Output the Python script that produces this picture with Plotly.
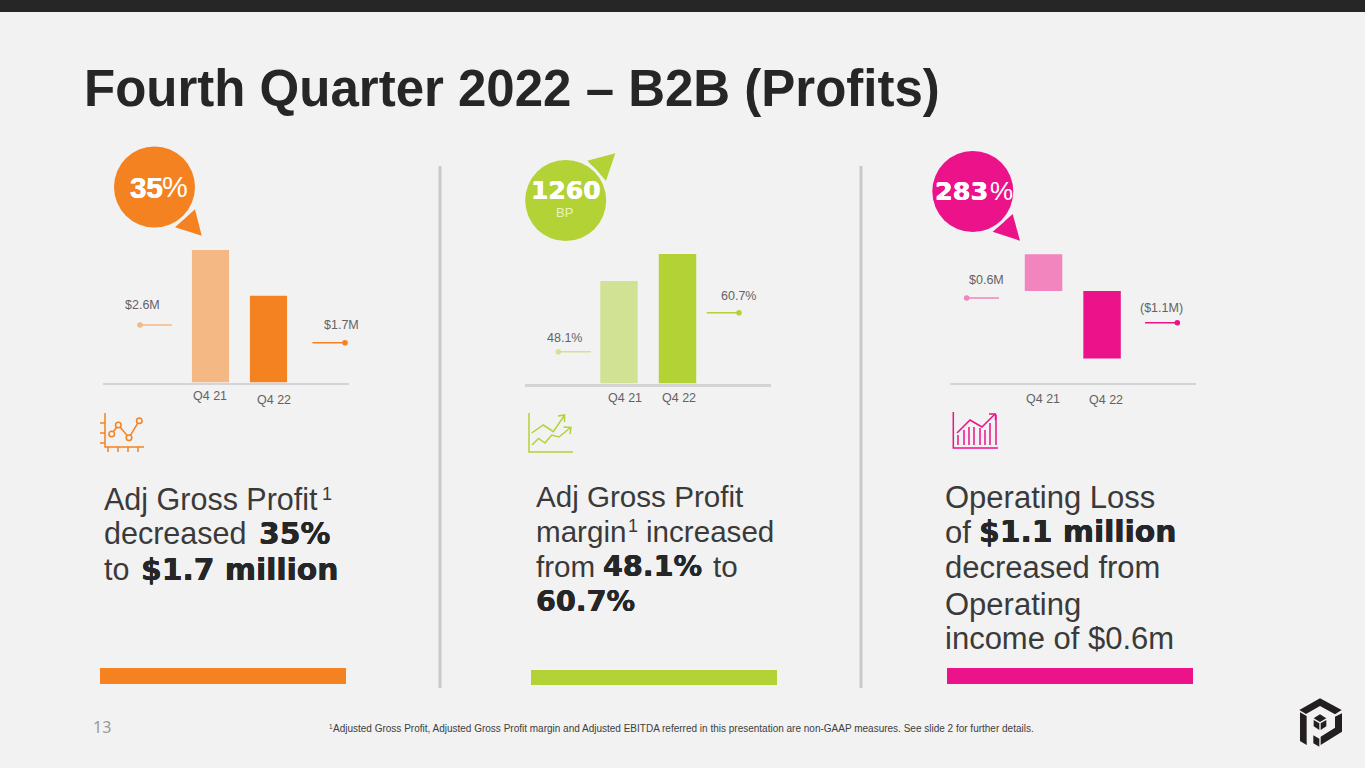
import plotly.graph_objects as go

W, H = 1365, 768
categories = ["Q4 21", "Q4 22"]
gross_profit = [2.6, 1.7]
gross_margin = [48.1, 60.7]
operating = [0.6, -1.1]
value_labels = [["$2.6M", "$1.7M"], ["48.1%", "60.7%"], ["$0.6M", "($1.1M)"]]
badges = ["35%", "1260", "283%"]

ORANGE, ORANGE_L = "#F58220", "#F4B885"
GREEN, GREEN_L = "#B2D235", "#D2E294"
PINK, PINK_L = "#EC1289", "#F284BE"
BG, DARK, GREY = "#F2F2F2", "#262626", "#636363"
SANS, HEAVY = "Liberation Sans", "DejaVu Sans"


def X(p):
    return p / W


def Y(p):
    return 1 - p / H


def path(points, close=True):
    s = "M " + " L ".join(f"{X(a):.5f},{Y(b):.5f}" for a, b in points)
    return s + (" Z" if close else "")


shapes, notes = [], []


def rect(x0, y0, x1, y1, color):
    shapes.append(dict(type="rect", xref="paper", yref="paper", x0=X(x0), x1=X(x1), y0=Y(y0), y1=Y(y1),
                       fillcolor=color, line_width=0, layer="below"))


def circle(cx, cy, r, color, width=0, line=None):
    shapes.append(dict(type="circle", xref="paper", yref="paper", x0=X(cx - r), x1=X(cx + r), y0=Y(cy - r), y1=Y(cy + r),
                       fillcolor=color, line=dict(width=width, color=line or color)))


def poly(points, color):
    shapes.append(dict(type="path", xref="paper", yref="paper", path=path(points), fillcolor=color, line_width=0))


def stroke(points, color, width=1.5):
    shapes.append(dict(type="path", xref="paper", yref="paper", path=path(points, False),
                       fillcolor="rgba(0,0,0,0)", line=dict(color=color, width=width)))


def text(x, y, s, size=30.5, color="#404040", family=SANS, anchor="left", weight=None, shadow=None):
    font = dict(family=family, size=size, color=color)
    if weight:
        font["weight"] = weight
    if shadow:
        font["shadow"] = shadow
    notes.append(dict(xref="paper", yref="paper", x=X(x), y=Y(y), text=s, showarrow=False, xanchor=anchor,
                      yanchor="middle", font=font, borderpad=0))


def heavy(x, y, s, size=29.8, color="#262626"):
    d = 0.3
    shadow = f"{d}px 0 0 {color}, -{d}px 0 0 {color}"
    text(x, y, s, size=size, color=color, family=HEAVY, weight=700, shadow=shadow)


# page furniture
rect(0, 0, W, 12, DARK)
rect(438.5, 166, 441.5, 688, "#C9C9C9")
rect(859.5, 166, 862.5, 688, "#C9C9C9")
rect(100, 668, 346, 684, ORANGE)
rect(531, 670, 777, 685, GREEN)
rect(947, 668, 1193, 684, PINK)
text(82.5, 88, "Fourth Quarter 2022 – B2B (Profits)", size=51, color=DARK, weight=700)
text(92, 727, "13", size=16, color="#9A9A9A", family="Noto Sans")
text(327.5, 726, "1", size=6.5, color="#404040")
text(331.5, 728, "Adjusted Gross Profit, Adjusted Gross Profit margin and Adjusted EBITDA referred in this presentation are non-GAAP measures. See slide 2 for further details.", size=10, color="#404040")

fig = go.Figure()
panels = [
    dict(ax="", vals=gross_profit, colors=[ORANGE_L, ORANGE], px=(103, 349), py=(239.7, 382.5), yr=[0, 2.8], xr=[-1.853, 2.388], line=1.5),
    dict(ax="2", vals=gross_margin, colors=[GREEN_L, GREEN], px=(525, 771), py=(241, 383.5), yr=[0, 66.8], xr=[-1.607, 2.598], line=3),
    dict(ax="3", vals=operating, colors=[PINK_L, PINK], px=(950, 1195.7), py=(240, 382.5), yr=[-1.49, 0.83], xr=[-1.598, 2.6], line=1.5),
]
# Q-label centres in pixels
label_x = [[209.5, 274], [624.7, 679], [1042.7, 1105.7]]
label_y = [[396, 400], [398, 398], [399, 400]]
layout_axes = {}
for i, p in enumerate(panels):
    fig.add_trace(go.Bar(x=categories, y=p["vals"], width=0.64, marker=dict(color=p["colors"], line_width=0),
                         xaxis="x" + p["ax"], yaxis="y" + p["ax"], showlegend=False))
    layout_axes["xaxis" + p["ax"]] = dict(domain=[X(p["px"][0]), X(p["px"][1])], range=p["xr"], type="category",
                                          anchor="y" + p["ax"], showticklabels=False, ticks="", showgrid=False,
                                          zeroline=False, showline=True, linecolor="#D4D4D4", linewidth=p["line"],
                                          categoryorder="array", categoryarray=categories)
    layout_axes["yaxis" + p["ax"]] = dict(domain=[Y(p["py"][1]), Y(p["py"][0])], range=p["yr"], anchor="x" + p["ax"],
                                          visible=False, showgrid=False, zeroline=False)
    for j, c in enumerate(categories):
        text(label_x[i][j], label_y[i][j], c, size=12.5, color=GREY, anchor="center")

# value labels with lollipop connectors: label x, label y, line x0, line x1, line y, dot x
lollipops = [
    [(142.7, 305, 140, 172, 325, 140, ORANGE_L), (341, 325, 312.5, 345, 342.7, 345, ORANGE)],
    [(564.3, 338, 558.3, 591, 351.7, 558.3, GREEN_L), (738.7, 296, 706.7, 739, 312.7, 739, GREEN)],
    [(986, 280, 966.7, 999, 298, 966.7, PINK_L), (1161.7, 307.7, 1145, 1177.3, 322.7, 1177.3, PINK)],
]
for i, pair in enumerate(lollipops):
    for j, (lx, ly, x0, x1, yy, dot, col) in enumerate(pair):
        text(lx, ly, value_labels[i][j], size=12.5, color=GREY, anchor="center")
        stroke([(x0, yy), (x1, yy)], col, 1.5)
        circle(dot, yy, 2.8, col)

# badges
poly([(175, 227.3), (195, 209.3), (201.7, 235.7)], ORANGE)
circle(154.5, 187, 43.5, BG)
circle(154.5, 187, 40.5, ORANGE)
text(128.5, 187, "35", size=29.5, color="white", weight=700, shadow="0.3px 0 0 white, -0.3px 0 0 white")
text(160.5, 187, "%", size=29, color="white")

poly([(587.3, 160.7), (615.3, 153.3), (606, 180.7)], GREEN)
circle(565.7, 200.5, 43.5, BG)
circle(565.7, 200.5, 40.5, GREEN)
heavy(529.5, 190, badges[1], size=25, color="white")
text(564.5, 212, "BP", size=13, color="#EAF3C0", anchor="center")

poly([(992.7, 231.7), (1012.7, 214), (1020, 240.7)], PINK)
circle(972.8, 191.5, 43.5, BG)
circle(972.8, 191.5, 40.5, PINK)
heavy(934, 191, "283", size=25.5, color="white")
text(988.5, 191, "%", size=26, color="white")

# body text
TXT = "#3A3A3A"
text(102.5, 499, "Adj Gross Profit", color=TXT)
text(321, 494, "1", size=18, color=TXT)
text(102.5, 533, "decreased", color=TXT)
heavy(258, 533, "35%", size=29.8)
text(102.5, 569, "to", color=TXT)
heavy(140, 569, "$1.7 million")

S2 = 29.6
text(534.5, 496, "Adj Gross Profit", size=S2, color=TXT)
text(534.5, 531, "margin", size=S2, color=TXT)
text(626.5, 526, "1", size=18, color=TXT)
text(644.5, 531, "increased", size=S2, color=TXT)
text(534.5, 566, "from", size=S2, color=TXT)
heavy(602, 566, "48.1%", size=28.6)
text(711.5, 566, "to", size=S2, color=TXT)
heavy(535, 601, "60.7%", size=28.6)

S3 = 31
text(943.5, 497, "Operating Loss", size=S3, color=TXT)
text(943.5, 532, "of", size=S3, color=TXT)
heavy(977.5, 531, "$1.1 million")
text(943.5, 567, "decreased from", size=S3, color=TXT)
text(943.5, 604, "Operating", size=S3, color=TXT)
text(943.5, 638, "income of $0.6m", size=S3, color=TXT)

# icon 1
stroke([(105, 413), (105, 447), (144, 447)], ORANGE, 1.5)
for yy in (423, 433, 443):
    stroke([(100, yy), (105, yy)], ORANGE, 1.5)
for xx in (108, 118, 128, 138):
    stroke([(xx, 447), (xx, 452)], ORANGE, 1.5)
icon1 = [(111.7, 434), (118.3, 425), (129, 437.7), (139.3, 420.7)]
stroke(icon1, ORANGE, 1.5)
for a, b in icon1:
    circle(a, b, 2.8, BG, 1.5, ORANGE)

# icon 2
stroke([(529, 413), (529, 452), (573, 452)], GREEN, 1.5)
stroke([(531.7, 433), (543.3, 425), (553.3, 431.7), (564, 416)], GREEN, 1.5)
stroke([(558, 416), (564.5, 415), (564.5, 422)], GREEN, 1.5)
stroke([(532, 445), (538.5, 438.5), (545, 443), (551.7, 435), (559, 437), (570, 428)], GREEN, 1.5)
stroke([(563.5, 427), (571, 427.5), (570, 434)], GREEN, 1.5)

# icon 3
stroke([(953.3, 412), (953.3, 448), (998, 448)], PINK, 1.5)
for xx, top in zip((958, 964, 969, 974, 980, 985, 990, 996), (435, 430, 427, 427, 428, 430, 423, 415)):
    stroke([(xx, top), (xx, 445)], PINK, 1.5)
stroke([(957, 433), (970, 420), (982, 427), (995, 414)], PINK, 1.5)
stroke([(989, 414), (995.5, 414), (995.5, 420)], PINK, 1.5)

# logo
LOGO = "#231F20"
OX, OY = 1270, 680


def L(pts):
    return [(OX + a / 3, OY + b / 3) for a, b in pts]


poly(L([(88, 90), (150, 55), (215, 90), (195, 103), (150, 78), (108, 102)]), LOGO)
poly(L([(90, 97), (110, 108), (110, 195), (90, 183)]), LOGO)
poly(L([(216, 100), (216, 155), (152, 195), (152, 170), (195, 143), (195, 110)]), LOGO)
poly(L([(130, 166), (148, 176), (148, 200), (130, 190)]), LOGO)
poly(L([(131, 115), (150, 103), (169, 115), (150, 126)]), LOGO)
poly(L([(131, 120), (148, 130), (148, 150), (131, 139)]), LOGO)
poly(L([(169, 120), (152, 130), (152, 150), (169, 139)]), LOGO)

fig.update_layout(width=W, height=H, margin=dict(l=0, r=0, t=0, b=0), paper_bgcolor=BG, plot_bgcolor="rgba(0,0,0,0)",
                  shapes=shapes, annotations=notes, bargap=0.36, hovermode=False, **layout_axes)
fig.write_html("out.html", config=dict(displayModeBar=False),
               post_script="document.body.style.margin='0';document.documentElement.style.overflow='hidden';")
